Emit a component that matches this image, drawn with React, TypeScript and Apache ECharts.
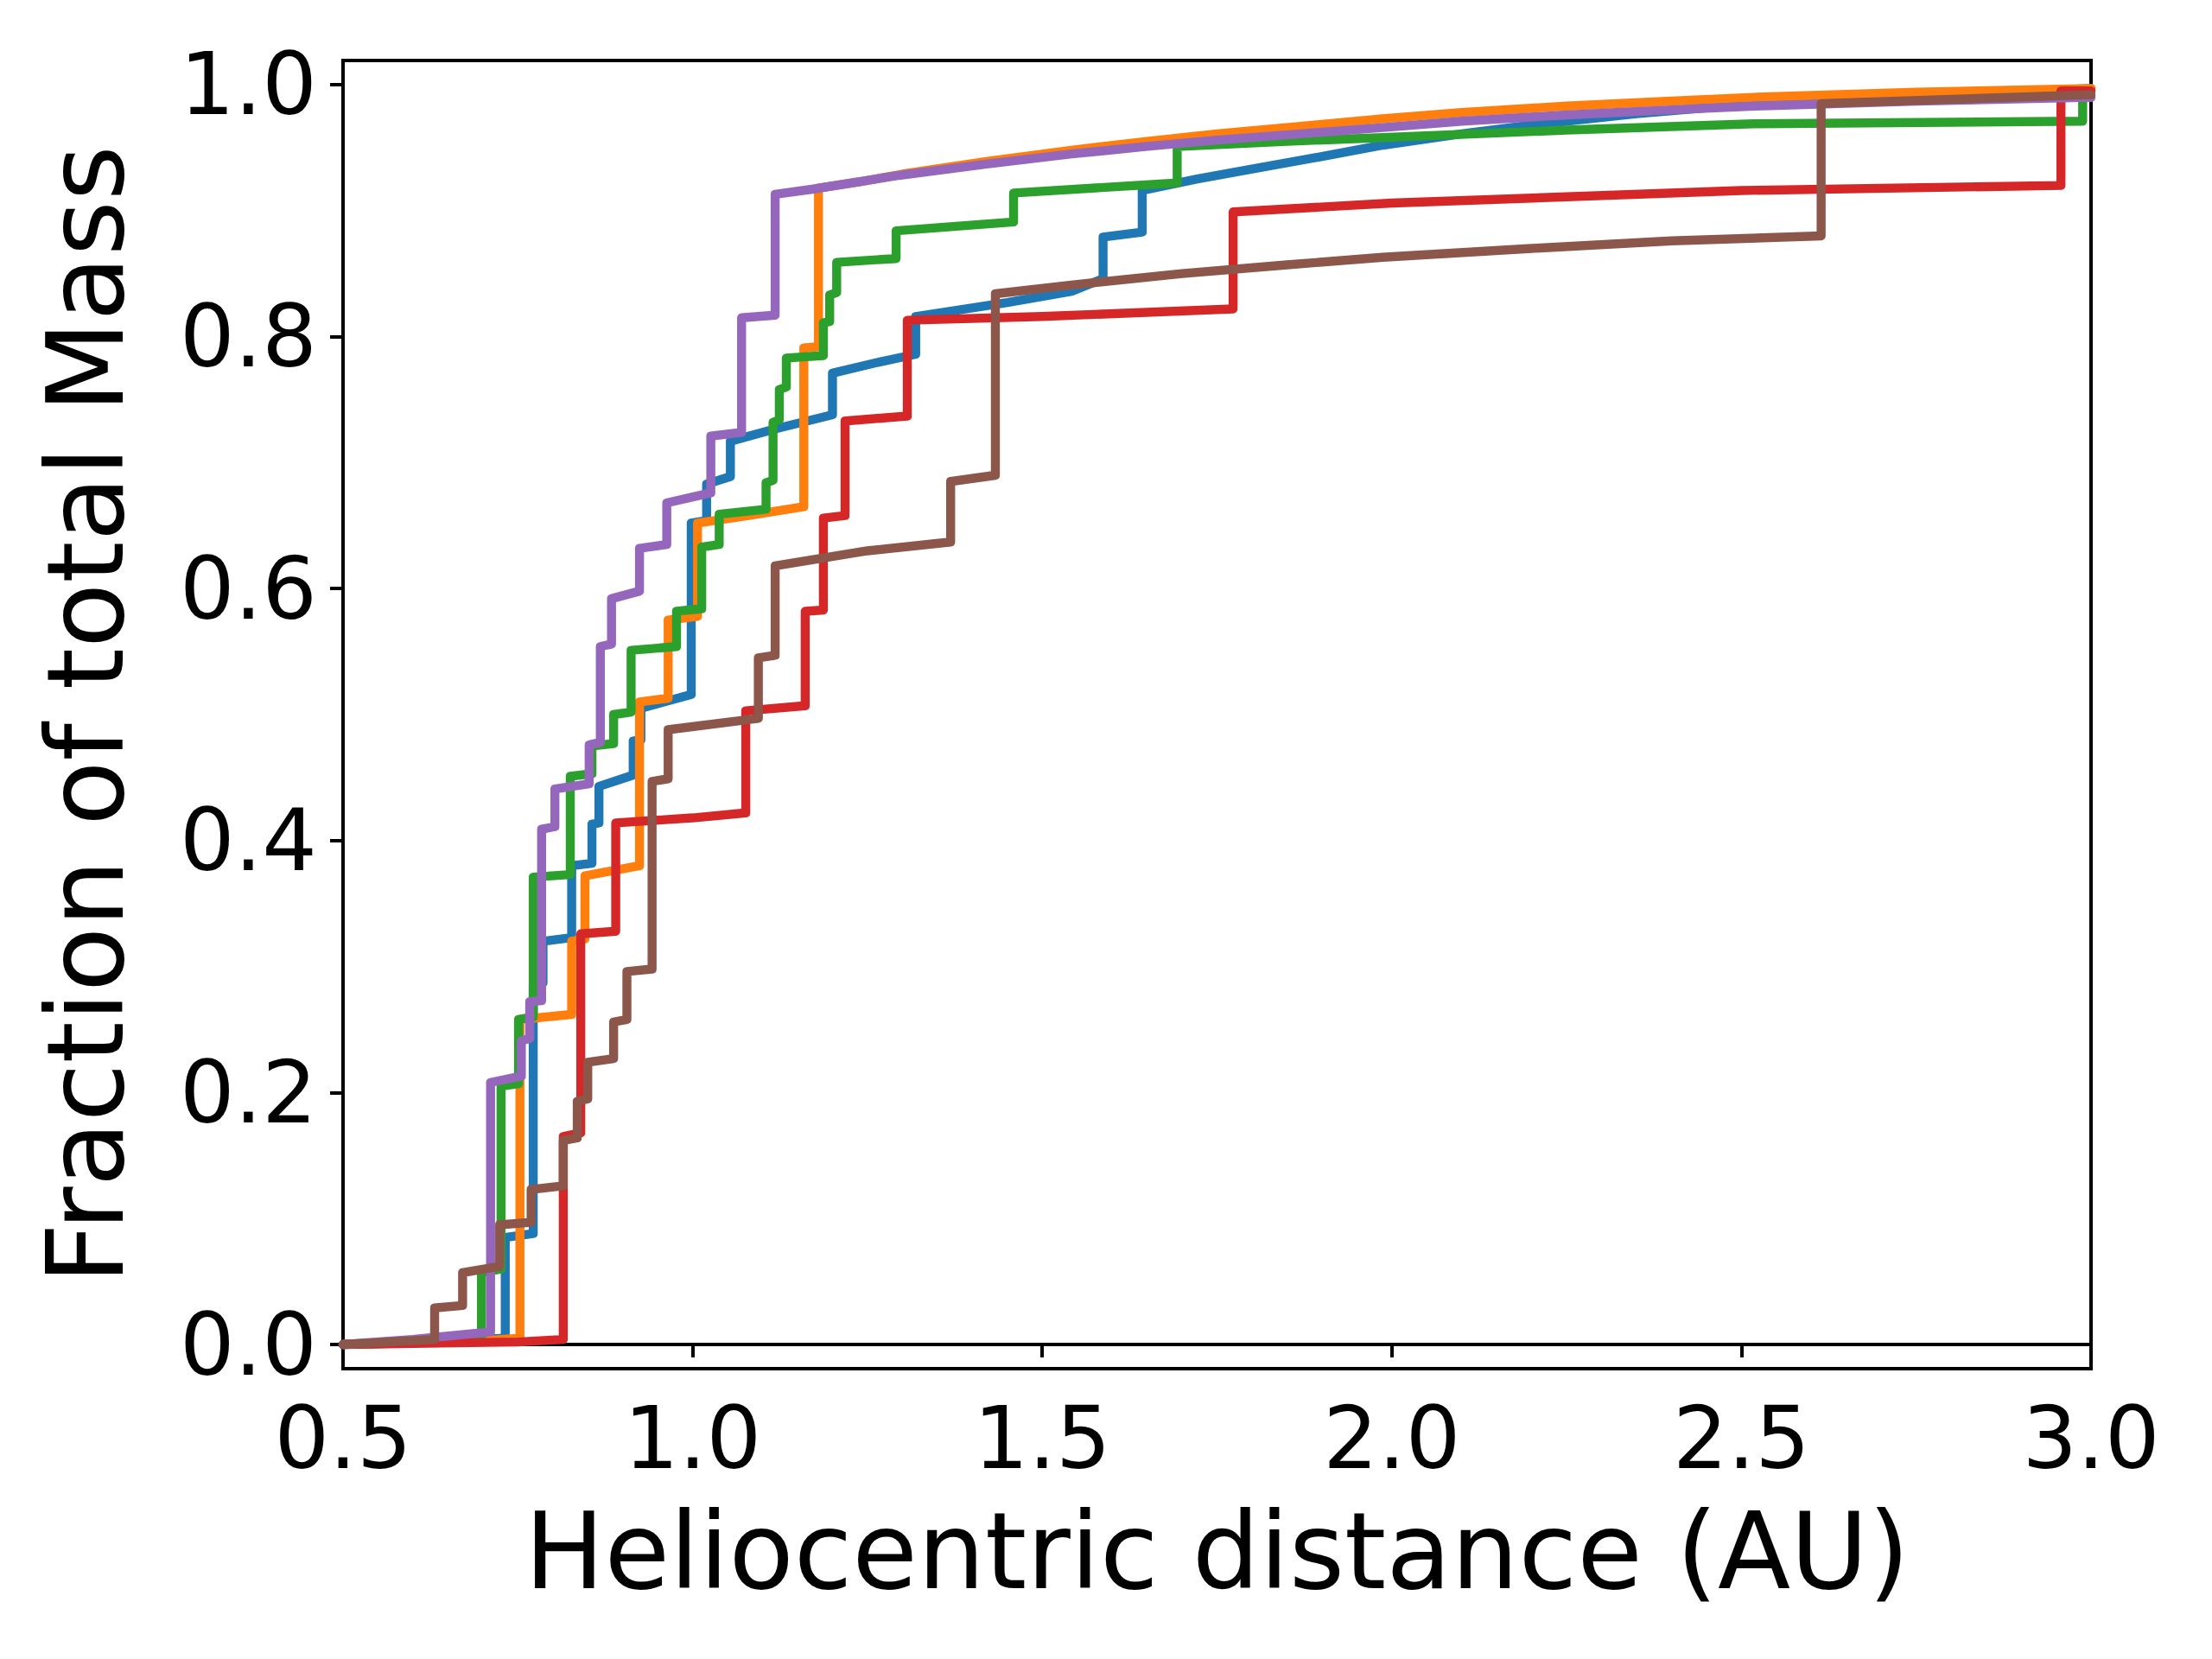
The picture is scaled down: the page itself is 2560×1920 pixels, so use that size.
import React, { useEffect, useRef } from "react";
import * as echarts from "echarts";

const xTicks = [0.5, 1.0, 1.5, 2.0, 2.5, 3.0];
const yTicks = [0, 0.2, 0.4, 0.6, 0.8, 1.0];
const xLabel = "Heliocentric distance (AU)";
const yLabel = "Fraction of total Mass";
const seriesNames = ["Run 1", "Run 2", "Run 3", "Run 4", "Run 5", "Run 6"];
const colors = ["#1f77b4", "#ff7f0e", "#2ca02c", "#d62728", "#9467bd", "#8c564b"];

const blue: number[][] = [
  [0.5, 0], [0.65, 0.003], [0.732, 0.005], [0.732, 0.085], [0.772, 0.088], [0.772, 0.285],
  [0.786, 0.287], [0.786, 0.32], [0.827, 0.323], [0.827, 0.38], [0.856, 0.382], [0.856, 0.413],
  [0.866, 0.414], [0.866, 0.443], [0.915, 0.452], [0.915, 0.479], [0.926, 0.48], [0.926, 0.505],
  [0.998, 0.516], [0.998, 0.652], [1.02, 0.654], [1.02, 0.683], [1.054, 0.689], [1.054, 0.717],
  [1.12, 0.727], [1.2, 0.738], [1.2, 0.771], [1.26, 0.779], [1.319, 0.786], [1.319, 0.816],
  [1.45, 0.827], [1.542, 0.836], [1.587, 0.846], [1.587, 0.879], [1.643, 0.883], [1.643, 0.916],
  [1.72, 0.925], [1.8, 0.933], [1.9, 0.943], [1.987, 0.952], [2.1, 0.961], [2.2, 0.968],
  [2.35, 0.977], [2.5, 0.984], [2.75, 0.991], [3.0, 0.997],
];

const orange: number[][] = [
  [0.5, 0], [0.7, 0.003], [0.753, 0.005], [0.753, 0.258], [0.827, 0.262], [0.827, 0.32],
  [0.846, 0.322], [0.846, 0.372], [0.924, 0.38], [0.924, 0.51], [0.965, 0.513], [0.965, 0.575],
  [1.007, 0.578], [1.007, 0.652], [1.08, 0.658], [1.159, 0.665], [1.159, 0.791], [1.18, 0.792],
  [1.18, 0.918], [1.24, 0.923], [1.3, 0.929], [1.42, 0.939], [1.542, 0.948], [1.65, 0.955],
  [1.75, 0.961], [1.87, 0.967], [1.987, 0.973], [2.1, 0.978], [2.25, 0.983], [2.4, 0.987],
  [2.518, 0.99], [2.75, 0.994], [3.0, 0.997],
];

const green: number[][] = [
  [0.5, 0], [0.65, 0.002], [0.698, 0.003], [0.698, 0.057], [0.726, 0.06], [0.726, 0.205],
  [0.751, 0.207], [0.751, 0.258], [0.772, 0.26], [0.772, 0.371], [0.825, 0.373], [0.825, 0.451],
  [0.856, 0.453], [0.856, 0.475], [0.887, 0.477], [0.887, 0.5], [0.912, 0.502], [0.912, 0.551],
  [0.977, 0.554], [0.977, 0.582], [1.013, 0.584], [1.013, 0.633], [1.038, 0.635], [1.038, 0.659],
  [1.105, 0.663], [1.105, 0.684], [1.115, 0.686], [1.115, 0.732], [1.124, 0.734], [1.124, 0.758],
  [1.134, 0.76], [1.134, 0.783], [1.187, 0.785], [1.187, 0.811], [1.196, 0.812], [1.196, 0.833],
  [1.206, 0.835], [1.206, 0.859], [1.291, 0.862], [1.291, 0.884], [1.459, 0.891], [1.459, 0.914],
  [1.693, 0.922], [1.693, 0.951], [1.85, 0.955], [1.987, 0.958], [2.25, 0.964], [2.518, 0.969],
  [2.988, 0.971], [2.988, 0.99], [3.0, 0.99],
];

const red: number[][] = [
  [0.5, 0], [0.75, 0.002], [0.815, 0.004], [0.815, 0.165], [0.84, 0.168], [0.84, 0.326],
  [0.89, 0.328], [0.89, 0.414], [1.0, 0.418], [1.076, 0.422], [1.076, 0.503], [1.161, 0.507],
  [1.161, 0.582], [1.187, 0.583], [1.187, 0.656], [1.218, 0.658], [1.218, 0.733], [1.307, 0.737],
  [1.307, 0.813], [1.5, 0.816], [1.773, 0.822], [1.773, 0.899], [2.0, 0.906], [2.25, 0.911],
  [2.5, 0.916], [2.957, 0.92], [2.957, 0.995], [3.0, 0.995],
];

const purple: number[][] = [
  [0.5, 0], [0.6, 0.004], [0.711, 0.01], [0.711, 0.208], [0.755, 0.213], [0.755, 0.241],
  [0.767, 0.243], [0.767, 0.272], [0.784, 0.273], [0.784, 0.409], [0.803, 0.411], [0.803, 0.441],
  [0.852, 0.445], [0.852, 0.476], [0.868, 0.478], [0.868, 0.554], [0.884, 0.556], [0.884, 0.592],
  [0.924, 0.598], [0.924, 0.632], [0.963, 0.635], [0.963, 0.668], [1.026, 0.676], [1.026, 0.721],
  [1.07, 0.724], [1.07, 0.815], [1.118, 0.817], [1.118, 0.913], [1.171, 0.917], [1.295, 0.928],
  [1.42, 0.937], [1.542, 0.945], [1.65, 0.951], [1.75, 0.956], [1.87, 0.961], [1.987, 0.966],
  [2.1, 0.971], [2.25, 0.976], [2.4, 0.98], [2.518, 0.983], [2.75, 0.987], [3.0, 0.99],
];

const brown: number[][] = [
  [0.5, 0], [0.631, 0.004], [0.631, 0.029], [0.671, 0.031], [0.671, 0.057], [0.724, 0.062],
  [0.724, 0.095], [0.769, 0.097], [0.769, 0.123], [0.815, 0.126], [0.815, 0.162], [0.835, 0.164],
  [0.835, 0.193], [0.85, 0.195], [0.85, 0.224], [0.887, 0.227], [0.887, 0.256], [0.906, 0.258],
  [0.906, 0.296], [0.942, 0.298], [0.942, 0.447], [0.965, 0.449], [0.965, 0.488], [1.094, 0.497],
  [1.094, 0.545], [1.118, 0.547], [1.118, 0.618], [1.25, 0.63], [1.369, 0.637], [1.369, 0.685],
  [1.433, 0.69], [1.433, 0.834], [1.542, 0.841], [1.7, 0.85], [1.85, 0.857], [1.987, 0.863],
  [2.2, 0.87], [2.4, 0.876], [2.614, 0.88], [2.614, 0.985], [3.0, 0.992],
];

const seriesData = [blue, orange, green, red, purple, brown];

const FONT = "DejaVu Sans";

export default function App() {
  const ref = useRef<HTMLDivElement>(null);
  useEffect(() => {
    if (!ref.current) return;
    const chart = echarts.init(ref.current, null, { renderer: "svg" });
    chart.setOption({
      animation: false,
      backgroundColor: "#ffffff",
      grid: {
        left: 397,
        right: 140,
        top: 70,
        bottom: 336,
        show: true,
        borderColor: "#000000",
        borderWidth: 4,
        backgroundColor: "transparent",
      },
      xAxis: {
        type: "value",
        min: 0.5,
        max: 3.0,
        interval: 0.5,
        name: xLabel,
        nameLocation: "middle",
        nameGap: 150,
        nameTextStyle: { fontSize: 123, fontFamily: FONT, color: "#000" },
        axisLine: { show: true, lineStyle: { color: "#000", width: 4 } },
        axisTick: { show: true, length: 15, lineStyle: { color: "#000", width: 4 } },
        axisLabel: {
          fontSize: 100,
          fontFamily: FONT,
          color: "#000",
          margin: 30,
          formatter: (v: number) => v.toFixed(1),
        },
        splitLine: { show: false },
      },
      yAxis: {
        type: "value",
        min: -0.0192,
        max: 1.0192,
        name: yLabel,
        nameLocation: "middle",
        nameGap: 236,
        nameRotate: 90,
        nameTextStyle: { fontSize: 123, fontFamily: FONT, color: "#000" },
        axisLine: { show: true, lineStyle: { color: "#000", width: 4 } },
        axisTick: {
          show: true,
          length: 15,
          customValues: yTicks,
          lineStyle: { color: "#000", width: 4 },
        },
        axisLabel: {
          fontSize: 100,
          fontFamily: FONT,
          color: "#000",
          margin: 30,
          customValues: yTicks,
          formatter: (v: number) => v.toFixed(1),
        },
        splitLine: { show: false },
      },
      series: seriesData.map((d, i) => ({
        name: seriesNames[i],
        type: "line",
        data: d,
        showSymbol: false,
        symbol: "none",
        clip: true,
        lineStyle: { color: colors[i], width: 10.4, cap: "round", join: "round" },
        itemStyle: { color: colors[i] },
        z: 2 + i,
      })),
    });
    return () => chart.dispose();
  }, []);
  return (
    <div
      ref={ref}
      style={{ position: "absolute", left: 0, top: 0, width: 2560, height: 1920, background: "#fff" }}
    />
  );
}
